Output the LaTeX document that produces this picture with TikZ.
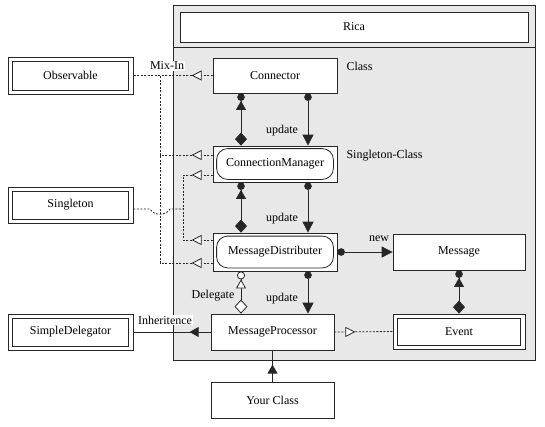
\documentclass[tikz,border=0pt]{standalone}
\usepackage{fontspec}
\setmainfont{Liberation Serif}
\usetikzlibrary{arrows.meta,decorations.markings,calc}
\tikzset{
  dt/.tip={Triangle[length=9pt,width=10pt] Circle[length=7.5pt]},
  dm/.tip={Diamond[length=13pt,width=12pt]},
  dc/.tip={Circle[length=7.5pt]},
  ta/.tip={Triangle[length=11pt,width=11pt]},
  odt/.tip={Triangle[length=9pt,width=10pt,fill=white] Circle[length=8pt,fill=white]},
  odm/.tip={Diamond[length=14pt,width=13pt,fill=white]},
}
\begin{document}
\begin{tikzpicture}[x=1pt,y=-1pt,
  font=\rmfamily\fontsize{12}{14}\selectfont,
  ln/.style={draw=black!85, line width=0.8pt},
  box/.style={ln, fill=white, minimum width=124pt, minimum height=36pt, inner sep=0pt, anchor=center},
  wlbl/.style={fill=white, inner sep=1pt},
  mix/.style={ln, dash pattern=on 2pt off 1.5pt},
  marktip/.style={postaction={decorate,decoration={markings,mark=at position #1 with {\arrow[solid,draw=black!85]{Triangle[fill=white,length=10pt,width=10pt]}}}}},
  marktipf/.style={postaction={decorate,decoration={markings,mark=at position #1 with {\arrow[solid,draw=black!85,fill=black]{Triangle[length=9pt,width=10pt]}}}}},
]
\useasboundingbox (0,0) rectangle (545,426);
% frame
\draw[ln, fill=black!9, line width=1pt] (173,5) rectangle (535,360);
\draw[ln] (173,47) -- (535,47);
% nodes
\node[box, minimum width=348pt, minimum height=30pt] (rica) at (354,27) {Rica};
\node[box, minimum height=35pt] (conn) at (275,75.5) {Connector};
\node[box] (cm) at (275,164) {ConnectionManager};
\node[box, minimum height=38pt] (md) at (275,252) {MessageDistributer};
\node[box, minimum width=132pt] (msg) at (459,252) {Message};
\node[box, minimum width=123pt] (mp) at (272.5,332) {MessageProcessor};
\node[box, minimum width=132pt, minimum height=35pt] (ev) at (459,331.5) {Event};
\node[box, minimum width=125pt] (sd) at (70.5,332) {SimpleDelegator};
\node[box, minimum width=125pt, minimum height=37pt] (obs) at (70.5,75.5) {Observable};
\node[box, minimum width=125pt] (sing) at (70.5,205) {Singleton};
\node[box, minimum width=123pt] (yc) at (272.5,400) {Your Class};
% inner borders
\foreach \n in {ev,sd,obs,sing}
  \draw[ln] ([shift={(5pt,-4.5pt)}]\n.north west) rectangle ([shift={(-5pt,4.5pt)}]\n.south east);
\draw[ln, rounded corners=11pt] ([shift={(4pt,-3pt)}]cm.north west) rectangle ([shift={(-4pt,3pt)}]cm.south east);
\draw[ln, rounded corners=11pt] ([shift={(4pt,-3.5pt)}]md.north west) rectangle ([shift={(-4pt,3.5pt)}]md.south east);
% helper coordinates
\coordinate (lx) at (241,0);
\coordinate (rx) at (308,0);
\coordinate (y155) at (0,155);
\coordinate (y175) at (0,175);
\coordinate (y240) at (0,240);
\coordinate (y263) at (0,263);
\coordinate (oj) at (160,75.5);
\coordinate (oj2) at (160,155);
\coordinate (sj) at (183,209);
% composition / update connectors
\draw[ln, dt-dm] (conn.south -| lx) -- (cm.north -| lx);
\draw[ln, dc-ta] (conn.south -| rx) -- (cm.north -| rx);
\draw[ln, dt-dm] (cm.south -| lx) -- (md.north -| lx);
\draw[ln, dc-ta] (cm.south -| rx) -- (md.north -| rx);
\draw[ln, odt-odm] (md.south -| lx) -- (mp.north -| lx);
\draw[ln, dc-ta] (md.south -| rx) -- (mp.north -| rx);
\draw[ln, dc-ta] (md.east) -- (msg.west);
\draw[ln, dt-dm] (msg.south) -- (ev.north);
% mix-in connectors
\draw[mix, marktip=21pt] (conn.west) -- (obs.east);
\draw[mix, marktip=21pt] (cm.west |- y155) -| (oj);
\draw[mix, marktip=21pt] (md.west |- y263) -| (oj2);
\draw[mix] ([yshift=-4pt]sing.east) -- (150,209) .. controls (154,216) and (166,216) .. (170,209) -- (sj);
\draw[mix, marktip=21pt] (cm.west |- y175) -| (sj);
\draw[mix, marktip=21pt] (md.west |- y240) -| (sj);
\draw[mix, marktip=21pt] (mp.east) -- (ev.west);
% inheritance
\draw[ln, marktipf=21pt] (mp.west) -- (sd.east);
\draw[ln, marktipf=17pt] (yc.north) -- (mp.south);
% labels
\node[wlbl] (lmix) at (167,66) {Mix-In};
\node[wlbl] (linh) at (165,320) {Inheritence};
\node (lu1) at (282,131) {update};
\node (lu2) at (282,219) {update};
\node (lu3) at (282,299) {update};
\node (ldel) at (213,296) {Delegate};
\node (lnew) at (379,239) {new};
\node[anchor=west] (lcls) at (343,66) {Class};
\node[anchor=west] (lsc) at (343,156) {Singleton-Class};
\end{tikzpicture}
\end{document}
